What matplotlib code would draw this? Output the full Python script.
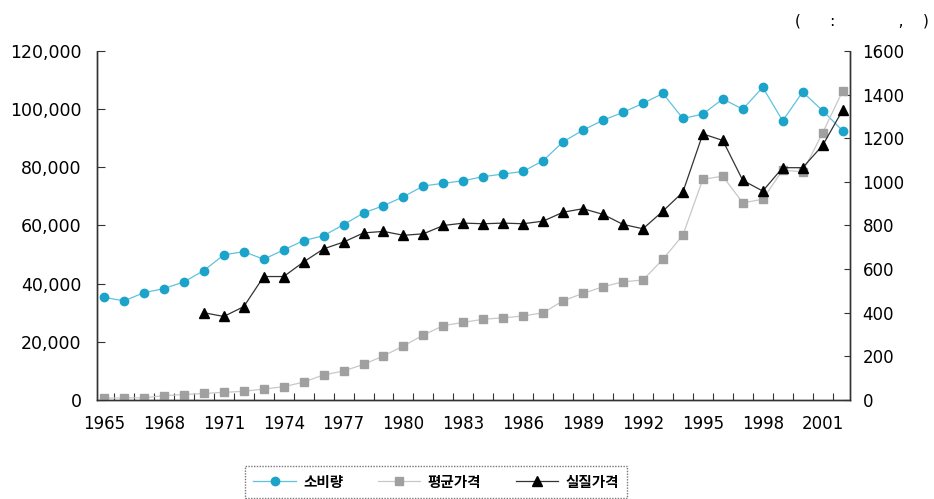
import matplotlib.pyplot as plt
import numpy as np
from matplotlib.ticker import FuncFormatter, FixedLocator

plt.rcParams['font.family'] = ['Noto Sans CJK KR', 'DejaVu Sans']

years = list(range(1965, 2003))

# 소비량 (left axis)
consumption = [35300, 34100, 36900, 38300, 40600, 44500, 49900, 51000, 48400, 51600,
               54800, 56500, 60300, 64300, 66800, 69900, 73600, 74500, 75400, 76800,
               77700, 78600, 82300, 88800, 92800, 96200, 98900, 102000, 105400, 96800,
               98300, 103500, 100000, 107500, 96000, 105900, 99500, 92600]

# 평균가격 (right axis)
avg_price = [8, 10, 10, 20, 25, 30, 35, 40, 50, 61,
             82, 115, 133, 163, 202, 248, 298, 341, 356, 370,
             377, 385, 400, 455, 489, 519, 542, 550, 645, 756,
             1012, 1026, 904, 920, 1054, 1046, 1224, 1416]

# 실질가격 (right axis), starts in 1970
real_years = list(range(1970, 2003))
real_price = [400, 383, 428, 566, 566, 633, 693, 724, 766, 773,
              755, 762, 800, 811, 808, 811, 808, 820, 861, 877,
              851, 805, 785, 866, 953, 1220, 1190, 1007, 958, 1065,
              1065, 1167, 1328]

labels = ['소비량', '평균가격', '실질가격']
year_labels = list(range(1965, 2002, 3))

fig = plt.figure(figsize=(9.34, 4.99), dpi=100)
ax = fig.add_axes([0.1035, 0.1984, 0.8065, 0.6994])
ax2 = ax.twinx()

blue = '#1ba3c9'
l1, = ax.plot(years, consumption, color='#5ec3dd', lw=0.9, marker='o', ms=6,
              mfc=blue, mec=blue, zorder=3)
l2, = ax2.plot(years, avg_price, color='#c8c8c8', lw=0.9, marker='s', ms=5.3,
               mfc='#a0a0a0', mec='#a0a0a0', zorder=2)
l3, = ax2.plot(real_years, real_price, color='#333333', lw=0.9, marker='^', ms=7,
               mfc='black', mec='black', zorder=3)

ax.set_xlim(1964.63, 2002.37)
ax.set_ylim(0, 120000)
ax2.set_ylim(0, 1600)
ax.set_yticks(np.arange(0, 120001, 20000))
ax2.set_yticks(np.arange(0, 1601, 200))
ax.yaxis.set_major_formatter(FuncFormatter(lambda v, p: f'{int(v):,}'))

ax.set_xticks(year_labels)
ax.xaxis.set_minor_locator(FixedLocator(np.arange(1965.5, 2002, 1)))
ax.tick_params(axis='x', which='major', length=0, pad=11, labelsize=12)
ax.tick_params(axis='x', which='minor', direction='in', length=5, width=0.8, color='#333333')
ax.tick_params(axis='y', direction='in', length=6, width=0.8, pad=11, labelsize=12.5, color='#333333')
ax2.tick_params(axis='y', direction='in', length=4, width=0.8, pad=9, labelsize=12, color='#333333')

for a in (ax, ax2):
    a.spines['top'].set_visible(False)
    for s in ('left', 'right', 'bottom'):
        a.spines[s].set_linestyle((0, (1, 1)))
        a.spines[s].set_linewidth(1.0)
        a.spines[s].set_color('#333333')

for t in ax.get_xticklabels() + ax.get_yticklabels() + ax2.get_yticklabels():
    t.set_family('DejaVu Sans')

leg = fig.legend([l1, l2, l3], labels, ncol=3, loc='center', mode='expand',
                 bbox_to_anchor=(0.255, 0.002, 0.424, 0.066), fontsize=10.5,
                 frameon=True, fancybox=False, handlelength=2.9, handletextpad=0.5,
                 columnspacing=1.6, borderpad=0.55)
leg.get_frame().set_edgecolor('#555555')
leg.get_frame().set_linestyle((0, (1, 1)))
leg.get_frame().set_linewidth(1.0)
for t in leg.get_texts():
    t.set_fontweight('bold')

fig.text(0.851, 0.958, '(      :             ,    )', fontsize=11,
         ha='left', va='center', family='DejaVu Sans')

fig.savefig('out.png', dpi=100)
